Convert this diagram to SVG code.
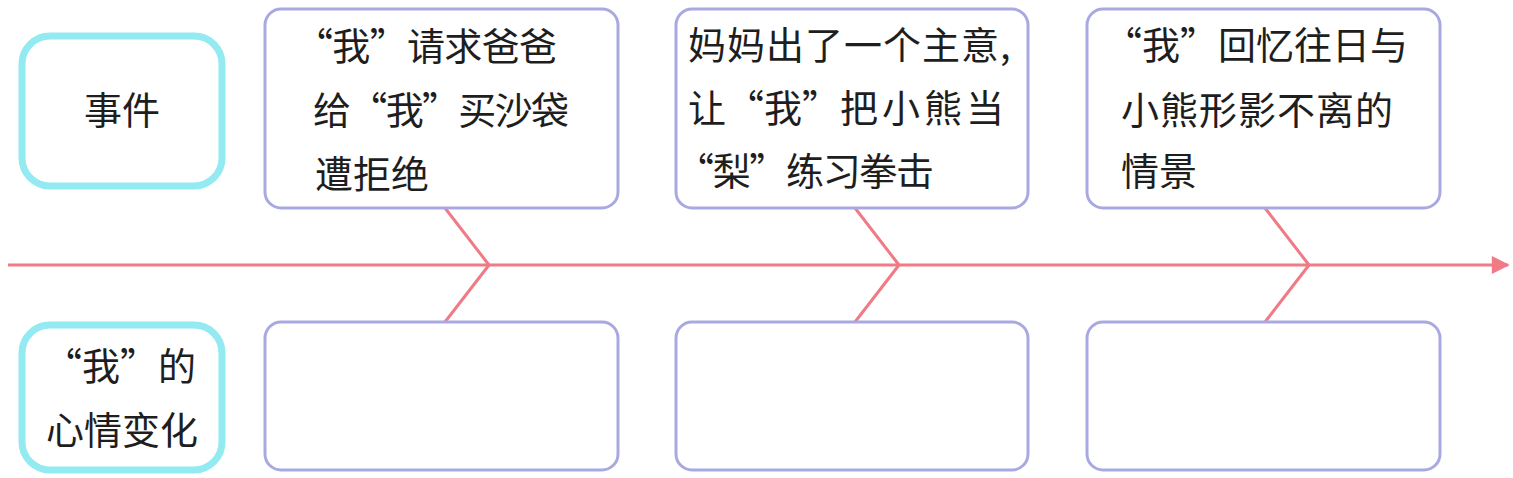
<svg xmlns="http://www.w3.org/2000/svg" width="1513" height="478" viewBox="0 0 1513 478">
<style>
.cat{fill:none;stroke:#93eaf0;stroke-width:7}
.box{fill:#fff;stroke:#a9a9e2;stroke-width:3}
.t{font-family:"Noto Sans CJK SC",sans-serif;font-size:38px;fill:#1e1e1e}
.c{text-anchor:middle}
.ln{fill:none;stroke:#f07a86;stroke-width:3;stroke-linejoin:round}
</style>
<defs>
<marker id="ah" viewBox="0 0 10 10" refX="9" refY="5" markerWidth="7" markerHeight="6" markerUnits="strokeWidth" orient="auto">
<path d="M0,0 L10,5 L0,10 z" fill="#f07a86"/>
</marker>
</defs>
<rect width="1513" height="478" fill="#fff"/>
<g id="connectors">
<line class="ln" x1="8" y1="265" x2="1508" y2="265" marker-end="url(#ah)"/>
<polyline class="ln" points="445,208 489,265 445,322"/>
<polyline class="ln" points="855,208 899,265 855,322"/>
<polyline class="ln" points="1265,208 1309,265 1265,322"/>
</g>
<g id="label-events">
<rect class="cat" x="22" y="36" width="200" height="150" rx="28"/>
<text class="t c" x="122" y="124">事件</text>
</g>
<g id="label-mood">
<rect class="cat" x="22" y="325" width="200" height="145" rx="28"/>
<text class="t c" x="120" y="380">“我”的</text>
<text class="t c" x="122" y="444">心情变化</text>
</g>
<g id="event1">
<rect class="box" x="265" y="9" width="353" height="199" rx="16"/>
<text class="t" x="295" y="60" textLength="262" lengthAdjust="spacing">“我”请求爸爸</text>
<text class="t" x="313" y="124" textLength="256" lengthAdjust="spacing">给“我”买沙袋</text>
<text class="t" x="315" y="188">遭拒绝</text>
</g>
<g id="event2">
<rect class="box" x="676" y="9" width="352" height="199" rx="16"/>
<text class="t" x="688" y="59" letter-spacing="1">妈妈出了一个主意,</text>
<text class="t" x="688" y="122">让“我”<tspan letter-spacing="4">把小熊当</tspan></text>
<text class="t" x="676" y="185" textLength="258" lengthAdjust="spacing">“梨”练习拳击</text>
</g>
<g id="event3">
<rect class="box" x="1087" y="9" width="353" height="199" rx="16"/>
<text class="t" x="1104" y="59">“我”回忆往日与</text>
<text class="t" x="1121" y="124" letter-spacing="1">小熊形影不离的</text>
<text class="t" x="1121" y="185">情景</text>
</g>
<g id="mood1"><rect class="box" x="265" y="322" width="353" height="148" rx="16"/></g>
<g id="mood2"><rect class="box" x="676" y="322" width="352" height="148" rx="16"/></g>
<g id="mood3"><rect class="box" x="1087" y="322" width="353" height="148" rx="16"/></g>
</svg>
